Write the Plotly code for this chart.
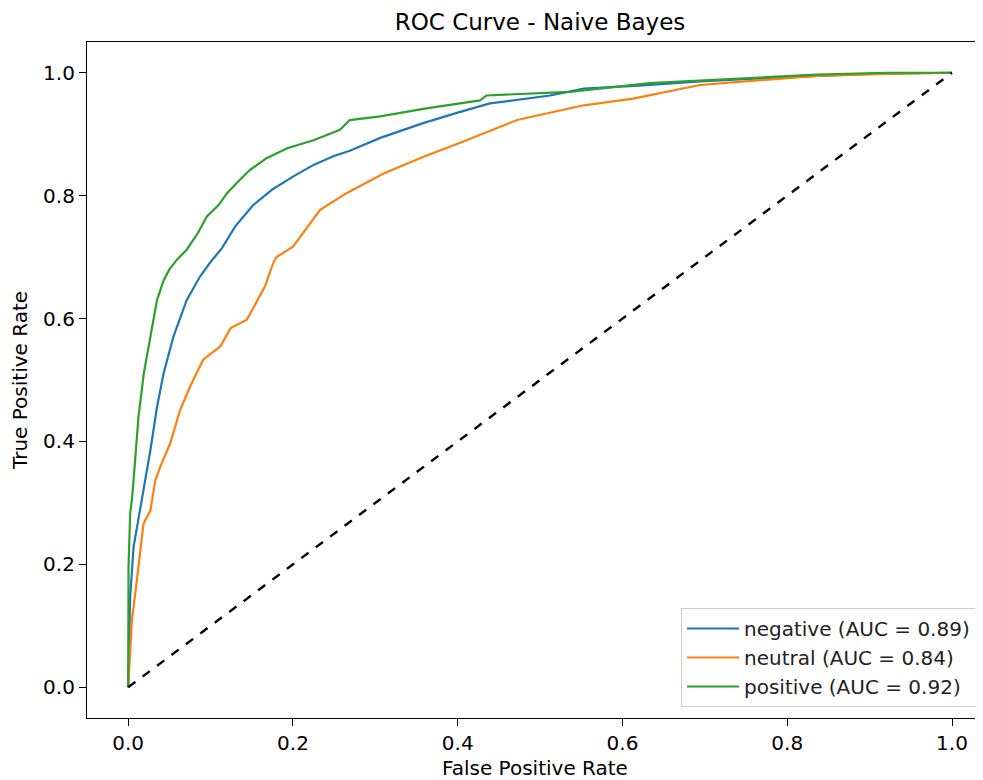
import plotly.graph_objects as go

class_names = ["negative", "neutral", "positive"]
auc_values = [0.89, 0.84, 0.92]

neg_fpr = [0, 0.0024, 0.0065, 0.0166, 0.0206, 0.027, 0.035, 0.043, 0.055, 0.071, 0.087, 0.1, 0.114,
           0.13, 0.152, 0.175, 0.2, 0.225, 0.249, 0.269, 0.306, 0.358, 0.4, 0.439, 0.512, 0.553,
           0.62, 0.694, 0.8, 0.9, 1.0]
neg_tpr = [0, 0.147, 0.228, 0.305, 0.337, 0.386, 0.456, 0.511, 0.571, 0.63, 0.668, 0.692, 0.715,
           0.75, 0.785, 0.81, 0.831, 0.85, 0.864, 0.873, 0.894, 0.918, 0.935, 0.95, 0.963, 0.974,
           0.979, 0.986, 0.993, 0.998, 1.0]

neu_fpr = [0, 0.0045, 0.0105, 0.0186, 0.027, 0.029, 0.033, 0.039, 0.051, 0.063, 0.075, 0.091,
           0.112, 0.124, 0.144, 0.166, 0.176, 0.18, 0.2, 0.233, 0.265, 0.31, 0.36, 0.403, 0.472,
           0.553, 0.613, 0.694, 0.836, 0.92, 1.0]
neu_tpr = [0, 0.109, 0.174, 0.266, 0.288, 0.305, 0.337, 0.359, 0.397, 0.451, 0.489, 0.533,
           0.555, 0.584, 0.598, 0.652, 0.69, 0.70, 0.717, 0.777, 0.804, 0.836, 0.864, 0.886, 0.923,
           0.947, 0.958, 0.98, 0.995, 0.998, 1.0]

pos_fpr = [0, 0.0004, 0.0024, 0.0045, 0.0065, 0.0085, 0.0125, 0.019, 0.027, 0.035, 0.043,
           0.05, 0.06, 0.071, 0.085, 0.0955, 0.11, 0.12, 0.135, 0.148, 0.168, 0.193, 0.225, 0.257,
           0.269, 0.306, 0.362, 0.427, 0.435, 0.536, 0.633, 0.694, 0.836, 0.92, 1.0]
pos_tpr = [0, 0.196, 0.283, 0.305, 0.337, 0.375, 0.44, 0.511, 0.571, 0.63, 0.662,
           0.68, 0.697, 0.712, 0.74, 0.766, 0.785, 0.804, 0.825, 0.842, 0.861, 0.877, 0.89, 0.907,
           0.923, 0.929, 0.942, 0.955, 0.963, 0.969, 0.983, 0.987, 0.997, 1.0, 1.0]

diag_x = [0, 1]
diag_y = [0, 1]

x_ticks = [0.0, 0.2, 0.4, 0.6, 0.8, 1.0]
y_ticks = [0.0, 0.2, 0.4, 0.6, 0.8, 1.0]

colors = ["#1f77b4", "#ff7f0e", "#2ca02c"]
series = [(neg_fpr, neg_tpr), (neu_fpr, neu_tpr), (pos_fpr, pos_tpr)]

fig = go.Figure()
for name, auc, (fx, ty), c in zip(class_names, auc_values, series, colors):
    fig.add_trace(go.Scatter(x=fx, y=ty, mode="lines", name=f"{name} (AUC = {auc:.2f})",
                             line=dict(color=c, width=2.2)))
fig.add_trace(go.Scatter(x=diag_x, y=diag_y, mode="lines", showlegend=False,
                         line=dict(color="black", width=2.4, dash="dash")))

font = "DejaVu Sans"
# the page has an 8px body margin, so the figure is offset by 8px
fig.update_layout(
    width=975, height=772,
    paper_bgcolor="white", plot_bgcolor="white",
    margin=dict(l=79, r=0, t=34, b=62),
    font=dict(family=font, size=20, color="black"),
    title=dict(text="ROC Curve - Naive Bayes", x=532 / 975, xanchor="center",
               y=1 - 14 / 772, yanchor="middle", yref="container",
               font=dict(family=font, size=23, color="black")),
    showlegend=True,
    legend=dict(x=(681 - 87) / 896, y=(718 - 707) / 676, xanchor="left", yanchor="bottom",
                bgcolor="rgba(255,255,255,0.8)", bordercolor="#cccccc", borderwidth=1,
                font=dict(family=font, size=20, color="#222222"), tracegroupgap=0,
                itemwidth=52),
)
fig.update_xaxes(range=[-0.05, (983 - 128) / 824], tickvals=x_ticks, tickformat=".1f",
                 showgrid=False, zeroline=False, showline=True, linecolor="black", linewidth=1.2,
                 mirror=True, ticks="outside", ticklen=7, tickcolor="black",
                 title=dict(text="False Positive Rate", standoff=8, font=dict(size=20)))
fig.update_yaxes(range=[-0.05, 1.05], tickvals=y_ticks, tickformat=".1f",
                 showgrid=False, zeroline=False, showline=True, linecolor="black", linewidth=1.2,
                 mirror=False, ticks="outside", ticklen=7, tickcolor="black",
                 title=dict(text="True Positive Rate", standoff=14, font=dict(size=20)))

fig.write_html("out.html")
